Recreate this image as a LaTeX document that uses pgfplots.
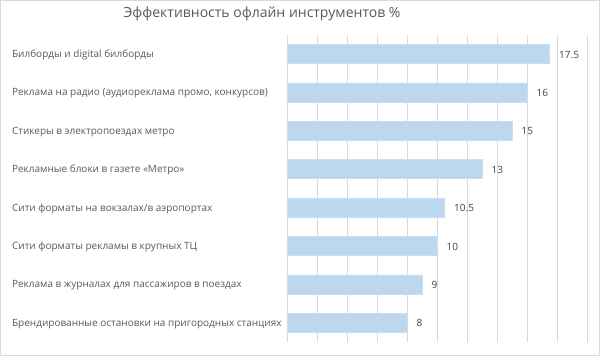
\documentclass[border=0pt]{standalone}
\usepackage{pgfplots}
\pgfplotsset{compat=1.18}
\usepackage{fontspec}
\setmainfont{Open Sans}
\definecolor{barfill}{HTML}{BDD7EE}
\definecolor{baredge}{HTML}{C9DEF1}
\definecolor{gridc}{HTML}{D9D9D9}
\definecolor{txt}{HTML}{595959}
\definecolor{vtxt}{HTML}{404040}
\begin{document}
\begin{tikzpicture}
\draw[gridc, line width=0.8pt] (0.5pt,0.5pt) rectangle (599.5pt,355.5pt);
\node[txt, font=\fontsize{14pt}{16pt}\selectfont] at (262pt,342.5pt) {Эффективность офлайн инструментов \%};
\begin{axis}[
  at={(287pt,14pt)}, anchor=south west,
  scale only axis, width=300pt, height=307pt,
  xbar, bar width=19pt,
  xmin=0, xmax=20, ymin=-0.5, ymax=7.5,
  xtick={0,2,...,20}, xticklabels={},
  xmajorgrids, grid style={gridc, line width=0.8pt},
  axis line style={draw=none},
  major tick length=0pt,
  ytick={0,...,7},
  yticklabels={Брендированные остановки на пригородных станциях,
    Реклама в журналах для пассажиров в поездах,
    Сити форматы рекламы в крупных ТЦ,
    Сити форматы на вокзалах/в аэропортах,
    Рекламные блоки в газете «Метро»,
    Стикеры в электропоездах метро,
    {Реклама на радио (аудиореклама промо, конкурсов)},
    Билборды и digital билборды},
  yticklabel style={anchor=west, inner sep=0pt, xshift=-275pt, yshift=-1pt, text=txt, font=\fontsize{10pt}{12pt}\selectfont},
  nodes near coords,
  nodes near coords style={text=vtxt, font=\fontsize{10pt}{12pt}\selectfont, anchor=west, xshift=6pt, yshift=-0.5pt},
  point meta=explicit symbolic,
  clip=false,
]
\addplot[fill=barfill, draw=baredge, line width=0.6pt] coordinates {
  (8,0) [8]
  (9,1) [9]
  (10,2) [10]
  (10.5,3) [10.5]
  (13,4) [13]
  (15,5) [15]
  (16,6) [16]
  (17.5,7) [17.5]
};
\end{axis}
\end{tikzpicture}
\end{document}
